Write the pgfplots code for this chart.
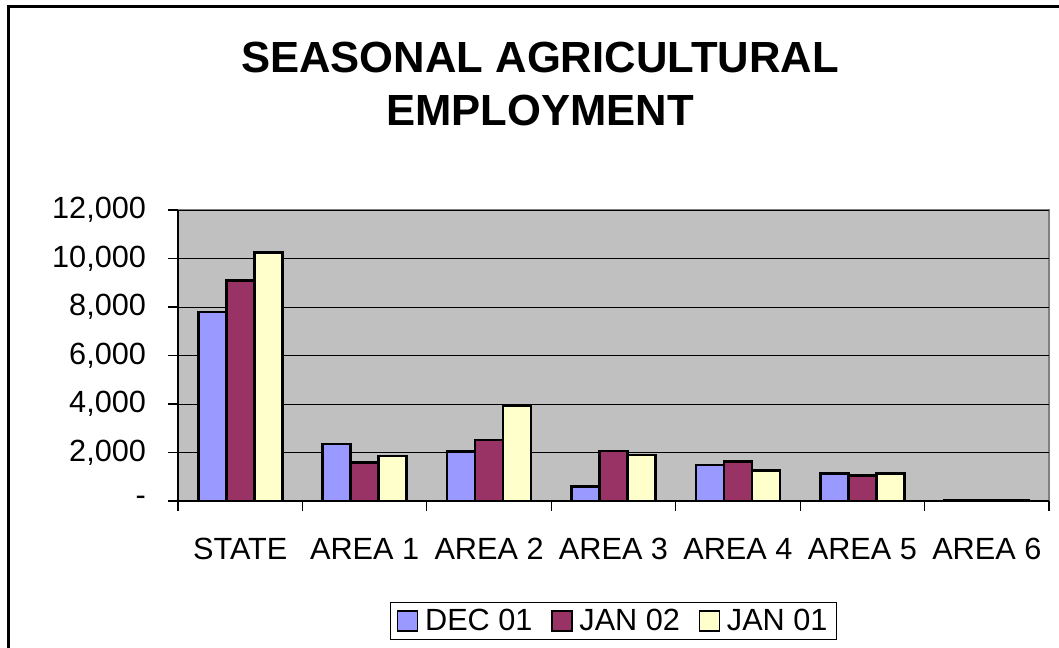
\documentclass[border=0pt]{standalone}
\usepackage{fontspec}
\setmainfont{Liberation Sans}
\usepackage{pgfplots}
\pgfplotsset{compat=1.18}
\definecolor{decc}{HTML}{9999FF}
\definecolor{jantwo}{HTML}{993366}
\definecolor{janone}{HTML}{FFFFCC}
\definecolor{plotbg}{HTML}{C0C0C0}
\newcommand{\lblfont}{\fontsize{23}{27}\selectfont}

\begin{document}
\begin{tikzpicture}
\useasboundingbox (0,0) rectangle (794.25pt,486pt);
% outer chart frame (only top and left edges are visible)
\draw[line width=2.25pt] (6pt,0) -- (6pt,480.75pt) -- (794.25pt,480.75pt);
\node[font=\fontsize{32.7}{39}\selectfont\bfseries, anchor=base] at (405pt,431.6pt) {SEASONAL AGRICULTURAL};
\node[font=\fontsize{32.7}{39}\selectfont\bfseries, anchor=base] at (405pt,391.9pt) {EMPLOYMENT};
\begin{axis}[
  at={(133.5pt,110.25pt)}, anchor=south west,
  scale only axis,
  width=653.25pt, height=218.25pt,
  ybar=0pt, bar width=21pt,
  legend image code/.code={\draw[#1,line width=1.2pt] (0pt,-7.5pt) rectangle (15pt,7.5pt);},
  xmin=-0.5, xmax=6.5, ymin=0, ymax=12000,
  axis x line=bottom, axis y line=left,
  axis line style={-, black, line width=0.8pt},
  axis background/.style={fill=plotbg, draw=gray, line width=1.2pt},
  xtick={0,...,6},
  xticklabels={STATE,AREA 1,AREA 2,AREA 3,AREA 4,AREA 5,AREA 6},
  minor xtick={-0.5,0.5,...,6.5},
  every major x tick/.append style={draw=none},
  every minor x tick/.append style={black, line width=0.8pt},
  ytick={0,2000,...,12000},
  yticklabels={-,{2,000},{4,000},{6,000},{8,000},{10,000},{12,000}},
  scaled y ticks=false,
  every major y tick/.append style={black, line width=0.8pt},
  tick align=outside,
  major tick length=7.5pt, minor tick length=7.5pt,
  ymajorgrids,
  grid style={black, line width=0.6pt},
  ticklabel style={font=\lblfont},
  yticklabel style={xshift=-13pt},
  xticklabel style={yshift=-17pt},
  legend style={at={(0.5,-0.412)}, anchor=center, draw=black, line width=0.6pt,
    font=\lblfont, legend columns=3,
    /tikz/every odd column/.append style={column sep=3pt},
    /tikz/every even column/.append style={column sep=12pt},
    inner xsep=5pt, inner ysep=3pt},
]
\addplot[draw=black, line width=2pt, fill=decc] coordinates {(0,7800) (1,2350) (2,2050) (3,600) (4,1490) (5,1140) (6,40)};
\addplot[draw=black, line width=2pt, fill=jantwo] coordinates {(0,9080) (1,1600) (2,2520) (3,2060) (4,1640) (5,1060) (6,45)};
\addplot[draw=black, line width=2pt, fill=janone] coordinates {(0,10250) (1,1860) (2,3950) (3,1890) (4,1250) (5,1130) (6,40)};
\legend{DEC 01,JAN 02,JAN 01}
\end{axis}
\end{tikzpicture}
\end{document}
